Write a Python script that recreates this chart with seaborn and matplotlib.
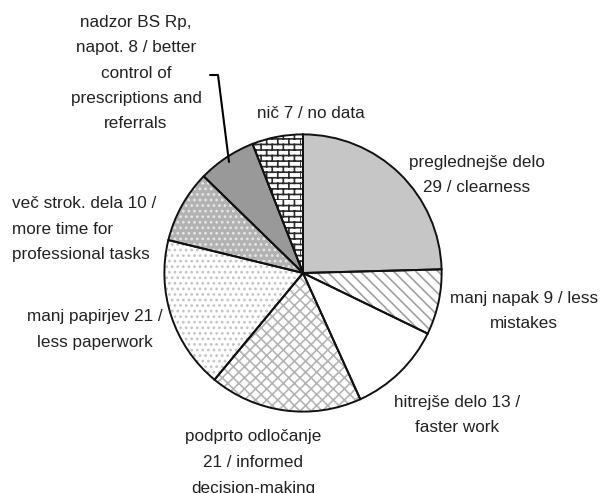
import seaborn as sns
import matplotlib.pyplot as plt
from matplotlib import hatch as mhatch
from matplotlib.path import Path

sns.set_theme(style="white")
plt.rcParams['font.family'] = ['Liberation Sans', 'DejaVu Sans']

# data, clockwise from 12 o'clock
labels = [
    "preglednejše delo\n29 / clearness",
    "manj napak 9 / less\nmistakes",
    "hitrejše delo 13 /\nfaster work",
    "podprto odločanje\n21 / informed\ndecision-making",
    "manj papirjev 21 /\nless paperwork",
    "več strok. dela 10 /\nmore time for\nprofessional tasks",
    "nadzor BS Rp,\nnapot. 8 / better\ncontrol of\nprescriptions and\nreferrals",
    "nič 7 / no data",
]
values = [29, 9, 13, 21, 21, 10, 8, 7]


# brick hatch, used in place of the '*' pattern
class Bricks(mhatch.HatchPatternBase):
    def __init__(self, hatch, density):
        n = hatch.count('*') * density
        self.n = n - n % 2
        self.num_vertices = 2 * self.n + self.n * self.n

    def set_vertices_and_codes(self, vertices, codes):
        n = self.n
        i = 0
        for k in range(n):
            y0, y1 = k / n, (k + 1) / n
            vertices[i] = (0, y0)
            vertices[i + 1] = (1, y0)
            codes[i], codes[i + 1] = Path.MOVETO, Path.LINETO
            i += 2
            for j in range(n // 2):
                x = (2 * j + k % 2) / n
                vertices[i] = (x, y0)
                vertices[i + 1] = (x, y1)
                codes[i], codes[i + 1] = Path.MOVETO, Path.LINETO
                i += 2


mhatch._hatch_types = [t for t in mhatch._hatch_types if t is not mhatch.Stars] + [Bricks]

faces = ["#c6c6c6", "#ffffff", "#ffffff", "#ffffff", "#ffffff", "#b2b2b2", "#999999", "#ffffff"]
hatches = [None, "\\\\\\", None, "xxx", "...", "...", None, "***"]
hatch_cols = ["#c6c6c6", "#a0a0a0", "#ffffff", "#b4b4b4", "#c4c4c4", "#e6e6e6", "#999999", "#2a2a2a"]

# first-line position in figure pixels (x, y from top), alignment
label_pos = [
    (477, 162, "center"),
    (524, 298, "center"),
    (457, 402, "center"),
    (253, 437, "center"),
    (95, 317, "center"),
    (12, 204, "left"),
    (136, 22, "center"),
    (311, 113, "center"),
]
line_h = 25.5

W, H = 600, 493
fig = plt.figure(figsize=(W / 100, H / 100), dpi=100)
cx, cy, r = 303, 273, 140
ax = fig.add_axes([(cx - r) / W, (H - cy - r) / H, 2 * r / W, 2 * r / H])

plt.rcParams['hatch.linewidth'] = 1.2
wedges, _ = ax.pie(values, startangle=90, counterclock=False, radius=1,
                   colors=faces, wedgeprops=dict(linewidth=0))
for w, h, hc in zip(wedges, hatches, hatch_cols):
    if h:
        w.set_hatch(h)
        w.set_edgecolor(hc)
ax.pie(values, startangle=90, counterclock=False, radius=1,
       wedgeprops=dict(fill=False, edgecolor="#111111", linewidth=1.4))
ax.set_xlim(-1.01, 1.01)
ax.set_ylim(-1.01, 1.01)
ax.set_aspect("equal")
ax.axis("off")

for lab, (x, y, ha) in zip(labels, label_pos):
    for i, line in enumerate(lab.split("\n")):
        fig.text(x / W, 1 - (y + i * line_h) / H, line, ha=ha, va="center",
                 fontsize=12.3, color="#222222")

# leader line for "nadzor"
fig.add_artist(plt.Line2D([210 / W, 218 / W, 229 / W],
                          [1 - 75 / H, 1 - 75 / H, 1 - 162 / H],
                          color="black", linewidth=1.5))

plt.savefig("out.png", dpi=100)
